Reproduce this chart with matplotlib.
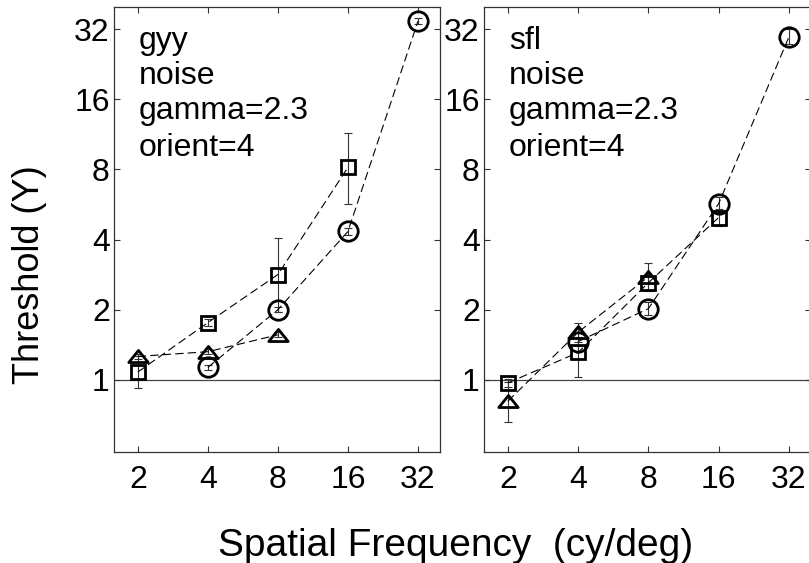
import matplotlib
matplotlib.use("Agg")
import matplotlib.pyplot as plt
import numpy as np
from matplotlib.path import Path

plt.rcParams['font.family'] = ['Liberation Sans', 'DejaVu Sans']
plt.rcParams['lines.scale_dashes'] = False

# ---------------- data ----------------
xticks = [2, 4, 8, 16, 32]
yticks = [1, 2, 4, 8, 16, 32]

# left panel (gyy)
gyy_circ_x = [4, 8, 16, 32]
gyy_circ_y = [1.13, 2.0, 4.33, 34.6]
gyy_circ_lo = [1.10, 1.95, 4.20, 33.5]
gyy_circ_hi = [1.16, 2.05, 4.50, 35.8]

gyy_sq_x = [2, 4, 8, 16]
gyy_sq_y = [1.08, 1.76, 2.83, 8.16]
gyy_sq_lo = [0.92, 1.71, 1.96, 5.7]
gyy_sq_hi = [1.27, 1.82, 4.08, 11.5]

gyy_tri_x = [2, 4, 8]
gyy_tri_y = [1.26, 1.32, 1.56]
gyy_tri_lo = [1.23, 1.29, 1.52]
gyy_tri_hi = [1.29, 1.35, 1.60]

# right panel (sfl)
sfl_circ_x = [4, 8, 16, 32]
sfl_circ_y = [1.46, 2.02, 5.7, 29.6]
sfl_circ_lo = [1.40, 1.90, 5.3, 27.5]
sfl_circ_hi = [1.52, 2.15, 6.1, 32.0]

sfl_sq_x = [2, 4, 8, 16]
sfl_sq_y = [0.97, 1.31, 2.61, 4.97]
sfl_sq_lo = [0.93, 1.03, 2.40, 4.55]
sfl_sq_hi = [1.01, 1.66, 2.85, 5.40]

sfl_tri_x = [2, 4, 8]
sfl_tri_y = [0.81, 1.60, 2.77]
sfl_tri_lo = [0.66, 1.45, 2.42]
sfl_tri_hi = [0.98, 1.76, 3.18]

labels_gyy = ["gyy", "noise", "gamma=2.3", "orient=4"]
labels_sfl = ["sfl", "noise", "gamma=2.3", "orient=4"]

# ---------------- figure ----------------
W, H = 809, 563
fig = plt.figure(figsize=(W / 100, H / 100), dpi=100)

def px_axes(l, t, r, b):
    return [l / W, 1 - b / H, (r - l) / W, (b - t) / H]

tri_marker = Path([(-1, -0.62), (1, -0.62), (0, 0.62), (-1, -0.62)],
                  [Path.MOVETO, Path.LINETO, Path.LINETO, Path.CLOSEPOLY])

def series(ax, x, y, lo, hi, marker, ms):
    y = np.array(y); lo = np.array(lo); hi = np.array(hi)
    ax.errorbar(x, y, yerr=[y - lo, hi - y], fmt='none', ecolor='#333333',
                elinewidth=0.8, capsize=3, capthick=0.8, zorder=2)
    ax.plot(x, y, color='black', lw=0.8, dashes=(6, 3), zorder=3)
    ax.plot(x, y, linestyle='none', marker=marker, ms=ms, mfc='none',
            mec='black', mew=2.0, zorder=4)

def panel(ax, data, labels):
    ax.set_xscale('log', base=2)
    ax.set_yscale('log', base=2)
    ax.set_xlim(1.58, 39.8)
    ax.set_ylim(0.49, 39.8)
    ax.axhline(1, color='#444444', lw=0.9, zorder=1)
    for (x, y, lo, hi, m, ms) in data:
        series(ax, x, y, lo, hi, m, ms)
    ax.set_xticks(xticks)
    ax.set_xticklabels([str(v) for v in xticks])
    ax.set_yticks(yticks)
    ax.set_yticklabels([str(v) for v in yticks])
    ax.minorticks_off()
    ax.tick_params(axis='both', which='major', direction='in', length=4,
                   width=0.8, color='#333333', labelsize=23,
                   top=True, right=True)
    ax.tick_params(axis='x', pad=9)
    ax.tick_params(axis='y', pad=3)
    for s in ax.spines.values():
        s.set_color('#333333')
        s.set_linewidth(0.9)
    ys = [0.905, 0.826, 0.748, 0.665]
    for t, yy in zip(labels, ys):
        ax.text(0.0767, yy, t, transform=ax.transAxes, fontsize=23,
                ha='left', va='baseline')

ax1 = fig.add_axes(px_axes(114, 7, 440, 452))
ax2 = fig.add_axes(px_axes(484, 7, 811, 452))

panel(ax1, [
    (gyy_circ_x, gyy_circ_y, gyy_circ_lo, gyy_circ_hi, 'o', 14),
    (gyy_sq_x, gyy_sq_y, gyy_sq_lo, gyy_sq_hi, 's', 9.5),
    (gyy_tri_x, gyy_tri_y, gyy_tri_lo, gyy_tri_hi, tri_marker, 14),
], labels_gyy)
panel(ax2, [
    (sfl_circ_x, sfl_circ_y, sfl_circ_lo, sfl_circ_hi, 'o', 14),
    (sfl_sq_x, sfl_sq_y, sfl_sq_lo, sfl_sq_hi, 's', 9.5),
    (sfl_tri_x, sfl_tri_y, sfl_tri_lo, sfl_tri_hi, tri_marker, 14),
], labels_sfl)

fig.text(456 / W, 1 - 556 / H, "Spatial Frequency  (cy/deg)", fontsize=28,
         ha='center', va='baseline')
fig.text(30 / W, 1 - 275 / H, "Threshold (Y)", fontsize=26, rotation=90,
         ha='center', va='center')

fig.savefig("out.png", dpi=100)
